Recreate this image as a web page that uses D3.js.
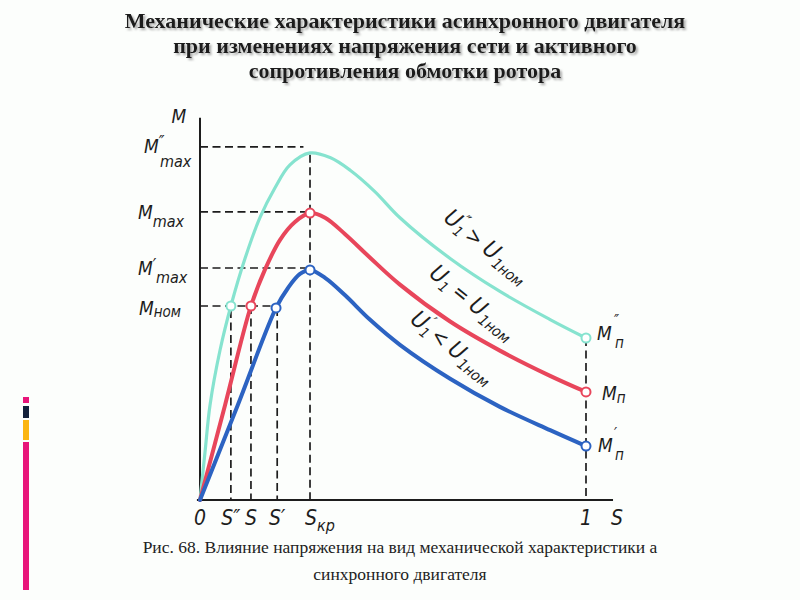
<!DOCTYPE html>
<html><head><meta charset="utf-8">
<script src="https://cdn.jsdelivr.net/npm/d3@7"></script>
<style>
html,body{margin:0;padding:0;background:#fcfefc;}
svg{display:block;}
</style></head>
<body>
<svg id="chart" width="800" height="600"></svg>
<script>
// ---------- data ----------
const titleLines = [
  "Механические характеристики асинхронного двигателя",
  "при изменениях напряжения сети и активного",
  "сопротивления обмотки ротора"
];
const captionLines = [
  "Рис. 68. Влияние напряжения на вид механической характеристики а",
  "синхронного двигателя"
];
// slip s (0..1) and torque M (relative units, Mном = 1)
const curveHigh = [ // U1'' > U1ном
  [0,0],[0.013,0.247],[0.026,0.49],[0.052,0.773],[0.080,1.0],[0.117,1.247],
  [0.155,1.454],[0.194,1.608],[0.233,1.727],[0.285,1.789],[0.337,1.765],
  [0.389,1.70],[0.453,1.59],[0.518,1.455],[0.648,1.245],[0.777,1.075],
  [0.907,0.93],[1.0,0.835]
];
const curveNom = [ // U1 = U1ном
  [0,0],[0.065,0.49],[0.132,1.0],[0.168,1.186],[0.207,1.34],[0.246,1.433],
  [0.285,1.479],[0.324,1.455],[0.376,1.37],[0.440,1.25],[0.518,1.11],
  [0.648,0.92],[0.777,0.77],[0.907,0.64],[1.0,0.557]
];
const curveLow = [ // U1' < U1ном
  [0,0],[0.098,0.49],[0.197,0.99],[0.228,1.093],[0.259,1.165],[0.285,1.186],
  [0.324,1.145],[0.376,1.055],[0.440,0.93],[0.518,0.80],[0.648,0.625],
  [0.777,0.48],[0.907,0.36],[1.0,0.278]
];
const pointsHigh = [[0.080,1.0],[1.0,0.835]];
const pointsNom  = [[0.132,1.0],[0.285,1.479],[1.0,0.557]];
const pointsLow  = [[0.197,0.99],[0.285,1.186],[1.0,0.278]];
// guide lines
const mLevels = [ // [M, s where dashed line ends]
  [1.82,0.268],[1.485,0.28],[1.196,0.28],[1.0,0.197]
];
const sLevels = [ // [s, M where dashed line starts]
  [0.08,0.98],[0.132,1.0],[0.2,0.99],[0.285,1.78],[1.0,0.835]
];
const xTickLabels = [
  {s:0, t:"0"},{s:0.08, t:"S″"},{s:0.132, t:"S"},{s:0.2, t:"S′"},
  {s:0.285, t:"S", sub:"кр"},{s:1.0, t:"1"},{s:1.08, t:"S"}
];

// ---------- scales ----------
const svg = d3.select("#chart");
const x = d3.scaleLinear().domain([0,1]).range([200,586]);
const y = d3.scaleLinear().domain([0,2]).range([500,112]);

const ink = "#1d1d1d";
const hand = "'DejaVu Sans Condensed','DejaVu Sans',sans-serif";

// title with shadow
const defs = svg.append("defs");
const f = defs.append("filter").attr("id","sh").attr("x","-5%").attr("y","-30%").attr("width","110%").attr("height","160%");
f.append("feDropShadow").attr("dx",2).attr("dy",2).attr("stdDeviation",1.2).attr("flood-color","#888").attr("flood-opacity",0.7);

svg.append("g").selectAll("text").data(titleLines).join("text")
  .attr("x",405).attr("y",(d,i)=>28+i*25)
  .attr("text-anchor","middle")
  .attr("font-family","'Liberation Serif','Times New Roman',serif")
  .attr("font-weight","bold").attr("font-size",22)
  .attr("fill","#1a1a1a").attr("filter","url(#sh)")
  .text(d=>d);

svg.append("g").selectAll("text").data(captionLines).join("text")
  .attr("x",400).attr("y",(d,i)=>553+i*27)
  .attr("text-anchor","middle")
  .attr("font-family","'Liberation Serif','Times New Roman',serif")
  .attr("font-size",17.5).attr("fill","#222")
  .text(d=>d);

// left decorative bar
const deco = [[397,403,"#e8157a"],[406,418,"#13213b"],[420,440,"#fbb612"],[442,590,"#e8157a"]];
svg.append("g").selectAll("rect").data(deco).join("rect")
  .attr("x",23).attr("width",6).attr("y",d=>d[0]).attr("height",d=>d[1]-d[0]).attr("fill",d=>d[2]);

// axes
svg.append("line").attr("x1",x(0)).attr("x2",x(0)).attr("y1",y(0)).attr("y2",y(1.97))
  .attr("stroke",ink).attr("stroke-width",2);
svg.append("line").attr("x1",x(-0.008)).attr("x2",x(1.07)).attr("y1",y(0)).attr("y2",y(0))
  .attr("stroke",ink).attr("stroke-width",2);

// dashed guides
const gd = svg.append("g").attr("stroke",ink).attr("stroke-width",1.7).attr("stroke-dasharray","8,4.5").attr("fill","none");
gd.selectAll("line.h").data(mLevels).join("line").attr("class","h")
  .attr("x1",x(0)).attr("x2",d=>x(d[1])).attr("y1",d=>y(d[0])).attr("y2",d=>y(d[0]));
gd.selectAll("line.v").data(sLevels).join("line").attr("class","v")
  .attr("x1",d=>x(d[0])).attr("x2",d=>x(d[0])).attr("y1",d=>y(d[1])).attr("y2",y(0));

// curves
const line = d3.line().x(d=>x(d[0])).y(d=>y(d[1])).curve(d3.curveCatmullRom.alpha(0.5));
const series = [
  {data:curveHigh, pts:pointsHigh, color:"#86e3cf", w:3.2},
  {data:curveNom,  pts:pointsNom,  color:"#e8465b", w:4},
  {data:curveLow,  pts:pointsLow,  color:"#2c63c2", w:4}
];
series.forEach(s=>{
  svg.append("path").attr("d",line(s.data)).attr("fill","none")
    .attr("stroke",s.color).attr("stroke-width",s.w).attr("stroke-linecap","round");
});
series.forEach(s=>{
  svg.append("g").selectAll("circle").data(s.pts).join("circle")
    .attr("cx",d=>x(d[0])).attr("cy",d=>y(d[1])).attr("r",4.5)
    .attr("fill","#fff").attr("stroke",s.color).attr("stroke-width",2);
});

// helper for hand-lettered labels
function lab(px,py,parts,anchor){
  const t = svg.append("text").attr("x",px).attr("y",py)
    .attr("font-family",hand).attr("font-style","italic").attr("fill",ink)
    .attr("text-anchor",anchor||"start");
  parts.forEach(p=>{
    const ts = t.append("tspan").text(p.t).attr("font-size",p.fs||19);
    if(p.dx!==undefined) ts.attr("dx",p.dx);
    if(p.dy!==undefined) ts.attr("dy",p.dy);
  });
  return t;
}

// y-axis labels
lab(179,123,[{t:"M",fs:19}],"middle");
lab(144,153,[{t:"M",fs:19},{t:"″",fs:17,dx:0,dy:-5}]);
lab(160,167,[{t:"max",fs:16}]);
lab(138,219,[{t:"M",fs:19},{t:"max",fs:16,dy:8}]);
lab(138,275,[{t:"M",fs:19},{t:"′",fs:17,dy:-4}]);
lab(156,283,[{t:"max",fs:16}]);
lab(139,315,[{t:"M",fs:19},{t:"ном",fs:15,dy:2}]);

// x-axis labels
xTickLabels.forEach(d=>{
  const parts=[{t:d.t,fs:21}];
  if(d.sub) parts.push({t:d.sub,fs:16,dy:6});
  lab(x(d.s)+(d.sub?-5:0),525,parts,d.sub?"start":"middle");
});

// right labels
lab(597,340,[{t:"M",fs:19}]);
lab(614,326,[{t:"″",fs:15}]);
lab(615,348,[{t:"п",fs:15}]);
lab(602,400,[{t:"M",fs:19},{t:"п",fs:15,dy:3}]);
lab(598,452,[{t:"M",fs:19}]);
lab(614,439,[{t:"′",fs:15}]);
lab(615,460,[{t:"п",fs:15}]);

// curve labels (rotated)
function rlab(cx,cy,ang,parts){
  const g = svg.append("g").attr("transform",`translate(${cx},${cy}) rotate(${ang})`);
  const t = g.append("text").attr("text-anchor","middle")
    .attr("font-family",hand).attr("font-style","italic").attr("fill",ink);
  parts.forEach(p=>{
    const ts=t.append("tspan").text(p.t).attr("font-size",p.fs);
    if(p.dx!==undefined) ts.attr("dx",p.dx);
    if(p.dy!==undefined) ts.attr("dy",p.dy);
  });
}
rlab(482,252,39,[{t:"U",fs:23},{t:"1",fs:14,dy:4},{t:"″",fs:16,dx:-7,dy:-13},{t:" > ",fs:21,dy:9},{t:"U",fs:23},{t:"1ном",fs:15,dy:5,dx:1}]);
rlab(468,308,39,[{t:"U",fs:23},{t:"1",fs:14,dy:4},{t:" = ",fs:21,dy:-4},{t:"U",fs:23},{t:"1ном",fs:15,dy:5,dx:1}]);
rlab(448,353,39,[{t:"U",fs:23},{t:"1",fs:14,dy:4},{t:"′",fs:16,dx:-6,dy:-13},{t:" < ",fs:21,dy:9},{t:"U",fs:23},{t:"1ном",fs:15,dy:5,dx:1}]);
</script>
</body></html>
